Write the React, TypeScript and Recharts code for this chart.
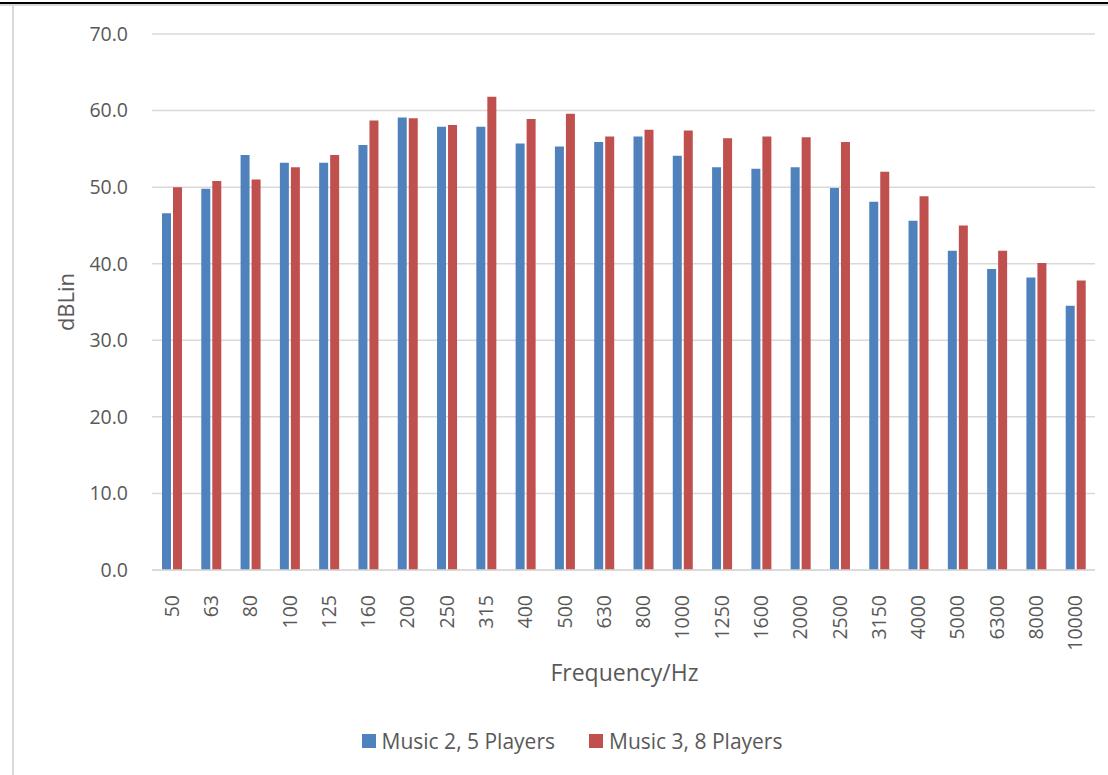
import React from 'react';
import { BarChart, Bar, XAxis, YAxis, CartesianGrid, Legend, Label } from 'recharts';

const frequencies = [
  '50', '63', '80', '100', '125', '160', '200', '250', '315', '400', '500', '630',
  '800', '1000', '1250', '1600', '2000', '2500', '3150', '4000', '5000', '6300', '8000', '10000',
];
const music2 = [
  46.6, 49.8, 54.2, 53.2, 53.2, 55.5, 59.1, 57.9, 57.9, 55.7, 55.3, 55.9,
  56.6, 54.1, 52.6, 52.4, 52.6, 49.9, 48.1, 45.6, 41.7, 39.3, 38.2, 34.5,
];
const music3 = [
  50.0, 50.8, 51.0, 52.6, 54.2, 58.7, 59.0, 58.1, 61.8, 58.9, 59.6, 56.6,
  57.5, 57.4, 56.4, 56.6, 56.5, 55.9, 52.0, 48.8, 45.0, 41.7, 40.1, 37.8,
];
const yTicks = [0, 10, 20, 30, 40, 50, 60, 70];

const seriesNames = ['Music 2, 5 Players', 'Music 3, 8 Players'];
const seriesColors = ['#4F81BD', '#C0504D'];

const data = frequencies.map((f, i) => ({ freq: f, m2: music2[i], m3: music3[i] }));

const FONT = '"Open Sans", "Noto Sans", sans-serif';
const TEXT = '#595959';

function FreqTick(props: any) {
  const { x, y, payload } = props;
  return (
    <text
      x={x}
      y={y + 17}
      transform={`rotate(-90, ${x}, ${y + 17})`}
      textAnchor="end"
      dy="0.36em"
      fill={TEXT}
      fontSize={19.5}
      fontFamily={FONT}
    >
      {payload.value}
    </text>
  );
}

function LegendBox() {
  return (
    <div style={{ display: 'flex', justifyContent: 'center', paddingLeft: 36, fontFamily: FONT, fontSize: 21, color: TEXT }}>
      {seriesNames.map((n, i) => (
        <div key={n} style={{ display: 'flex', alignItems: 'center', marginRight: i === 0 ? 34 : 0 }}>
          <span style={{ width: 14, height: 14, background: seriesColors[i], marginRight: 6, display: 'inline-block' }} />
          <span>{n}</span>
        </div>
      ))}
    </div>
  );
}

export default function App() {
  return (
    <div style={{ position: 'fixed', left: 0, top: 0, width: 1108, height: 775, background: '#fff' }}>
      <div style={{ position: 'absolute', left: 0, top: 2, width: 1108, height: 1.5, background: '#000' }} />
      <div style={{ position: 'absolute', left: 0, top: 4, width: 1108, height: 1.5, background: '#d9d9d9' }} />
      <div style={{ position: 'absolute', left: 12, top: 5, width: 1.5, height: 770, background: '#d9d9d9' }} />
      <BarChart
        width={1108}
        height={775}
        data={data}
        margin={{ top: 34, right: 13, left: 0, bottom: 75 }}
        barSize={9}
        barGap={2}
        style={{ position: 'absolute', left: 0, top: 0 }}
      >
        <CartesianGrid vertical={false} stroke="#D9D9D9" strokeWidth={1.5} />
        <XAxis
          dataKey="freq"
          height={130}
          interval={0}
          tickLine={false}
          axisLine={{ stroke: '#D9D9D9', strokeWidth: 1.5 }}
          tick={<FreqTick />}
        >
          <Label
            content={(p: any) => {
              const vb = p.viewBox;
              return (
                <text
                  x={vb.x + vb.width / 2 + 1}
                  y={vb.y + 102}
                  textAnchor="middle"
                  dominantBaseline="central"
                  fill={TEXT}
                  fontSize={23}
                  fontFamily={FONT}
                >
                  Frequency/Hz
                </text>
              );
            }}
          />
        </XAxis>
        <YAxis
          width={152}
          domain={[0, 70]}
          ticks={yTicks}
          interval={0}
          tickLine={false}
          axisLine={false}
          tickSize={0}
          tickMargin={24}
          tickFormatter={(v: number) => v.toFixed(1)}
          tick={{ fill: TEXT, fontSize: 19.5, fontFamily: FONT }}
        >
          <Label
            content={(p: any) => {
              const vb = p.viewBox;
              const cy = vb.y + vb.height / 2;
              return (
                <text
                  x={65}
                  y={cy}
                  transform={`rotate(-90, 65, ${cy})`}
                  textAnchor="middle"
                  dominantBaseline="central"
                  fill={TEXT}
                  fontSize={22}
                  fontFamily={FONT}
                >
                  dBLin
                </text>
              );
            }}
          />
        </YAxis>
        <Legend
          verticalAlign="middle"
          align="center"
          layout="horizontal"
          wrapperStyle={{ top: 727, left: 0, width: 1108 }}
          content={<LegendBox />}
        />
        <Bar dataKey="m2" name={seriesNames[0]} fill={seriesColors[0]} isAnimationActive={false} />
        <Bar dataKey="m3" name={seriesNames[1]} fill={seriesColors[1]} isAnimationActive={false} />
      </BarChart>
    </div>
  );
}
